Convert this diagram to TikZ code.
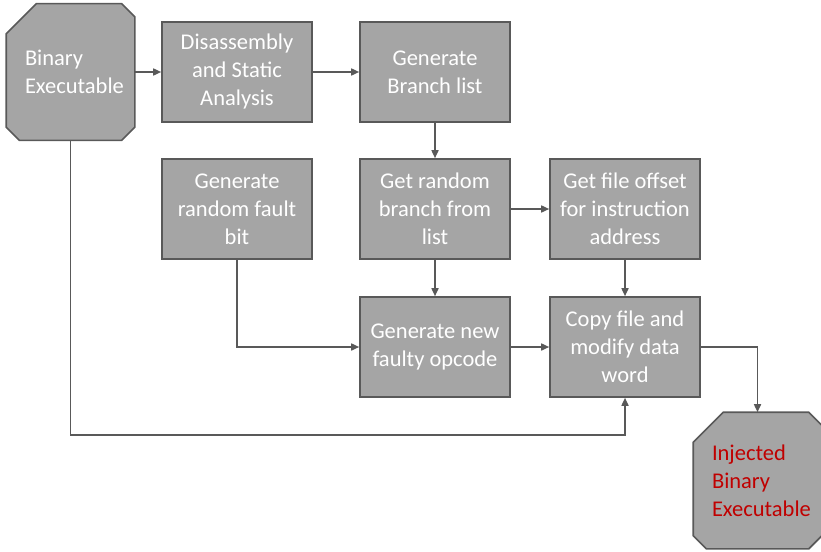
\documentclass[tikz,border=0pt]{standalone}
\usepackage{fontspec}
\setmainfont{Carlito}
\usetikzlibrary{arrows.meta,positioning}
\definecolor{boxgray}{HTML}{A5A5A5}
\definecolor{edgegray}{HTML}{595959}
\definecolor{injred}{HTML}{C00000}
\newcommand\octagon[1]{%
  \draw [draw=edgegray,fill=boxgray]
    ([yshift=-30pt]#1.north west) -- ([xshift=30pt]#1.north west)
    -- ([xshift=-13pt]#1.north east) -- ([yshift=-13pt]#1.north east)
    -- ([yshift=13pt]#1.south east) -- ([xshift=-13pt]#1.south east)
    -- ([xshift=13pt]#1.south west) -- ([yshift=13pt]#1.south west) -- cycle;}

\begin{document}
\begin{tikzpicture}[x=1pt,y=-1pt,line width=1.6pt,
    proc/.style={draw=edgegray,fill=boxgray,minimum width=150pt,minimum height=100pt,
      inner sep=0pt,align=center,text=white,font=\fontsize{22.5}{28}\selectfont},
    term/.style={minimum width=127pt,minimum height=135pt,inner sep=0pt},
    termtext/.style={anchor=west,align=left,inner sep=0pt,font=\fontsize{22.5}{28}\selectfont},
    flow/.style={edgegray,-{Triangle[length=8pt,width=7pt]}}]
    \path [use as bounding box] (0,0) rectangle (821,551);
    % terminals
    \node [term] (bin) at (70.5,72) {};
    \node [term] (inj) at (757.5,480.5) {};
    \octagon{bin}
    \octagon{inj}
    \node [termtext,text=white] (bintxt) at ([xshift=18pt]bin.west) {Binary\\Executable};
    \node [termtext,text=injred] (injtxt) at ([xshift=18pt]inj.west) {Injected\\Binary\\Executable};
    % steps
    \node [proc] (dis) at (237,72) {Disassembly\\and Static\\Analysis};
    \node [proc] (brl) at (435,72) {Generate\\Branch list};
    \node [proc] (fbit) at (237,209) {Generate\\random fault\\bit};
    \node [proc] (rbr) at (435,209) {Get random\\branch from\\list};
    \node [proc] (off) at (625,209) {Get file offset\\for instruction\\address};
    \node [proc] (opc) at (435,347) {Generate new\\faulty opcode};
    \node [proc] (cpy) at (625,347) {Copy file and\\modify data\\word};
    \coordinate (ret) at (625,435);
    % connectors
    \draw [flow] (bin) -- (dis);
    \draw [flow] (dis) -- (brl);
    \draw [flow] (brl) -- (rbr);
    \draw [flow] (rbr) -- (off);
    \draw [flow] (rbr) -- (opc);
    \draw [flow] (off) -- (cpy);
    \draw [flow] (fbit) |- (opc);
    \draw [flow] (opc) -- (cpy);
    \draw [flow] (cpy) -| (inj);
    \draw [flow] (bin.south) -- (bin.south |- ret) -- (ret) -- (cpy.south);
\end{tikzpicture}
\end{document}
